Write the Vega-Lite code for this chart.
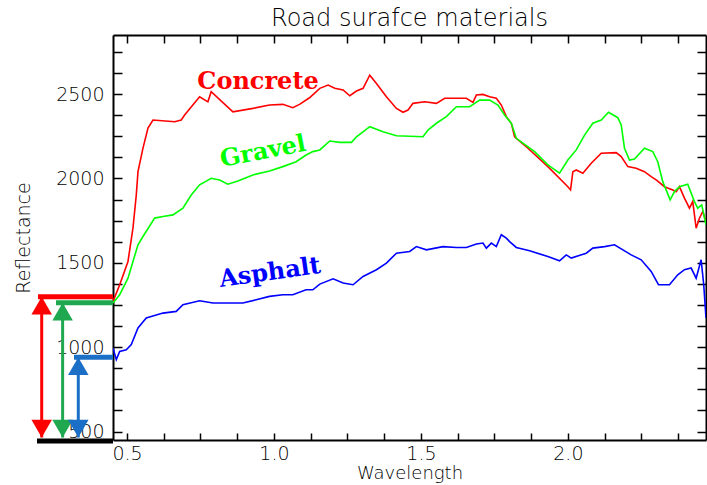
{
  "$schema": "https://vega.github.io/schema/vega-lite/v6.json",
  "width": 593,
  "height": 405,
  "autosize": {"type": "none"},
  "padding": {"left": 113, "top": 35, "right": 1, "bottom": 45},
  "background": "white",
  "title": {"text": "Road surafce materials", "font": "DejaVu Sans", "fontSize": 24, "fontWeight": 200, "color": "black", "anchor": "middle", "offset": 3},
  "config": {
    "view": {"stroke": null},
    "axis": {
      "domainColor": "black", "domainWidth": 2, "tickColor": "black", "tickWidth": 1.5,
      "grid": false, "labelFont": "DejaVu Sans", "labelFontSize": 19, "labelFontWeight": 200, "labelColor": "black",
      "titleFont": "DejaVu Sans", "titleFontSize": 19, "titleFontWeight": 200, "titleColor": "black",
      "labelFlush": false, "labelOverlap": false, "labelBound": false
    }
  },
  "datasets": {
    "spectra": [
      {"material":"Concrete","wavelength":0.4524,"reflectance":1271},
      {"material":"Concrete","wavelength":0.4752,"reflectance":1370},
      {"material":"Concrete","wavelength":0.5034,"reflectance":1508},
      {"material":"Concrete","wavelength":0.5204,"reflectance":1707},
      {"material":"Concrete","wavelength":0.5316,"reflectance":1902},
      {"material":"Concrete","wavelength":0.5374,"reflectance":2040},
      {"material":"Concrete","wavelength":0.5544,"reflectance":2180},
      {"material":"Concrete","wavelength":0.5714,"reflectance":2299},
      {"material":"Concrete","wavelength":0.5884,"reflectance":2346},
      {"material":"Concrete","wavelength":0.6621,"reflectance":2336},
      {"material":"Concrete","wavelength":0.6846,"reflectance":2346},
      {"material":"Concrete","wavelength":0.6961,"reflectance":2376},
      {"material":"Concrete","wavelength":0.7471,"reflectance":2484},
      {"material":"Concrete","wavelength":0.7753,"reflectance":2454},
      {"material":"Concrete","wavelength":0.7865,"reflectance":2514},
      {"material":"Concrete","wavelength":0.8603,"reflectance":2395},
      {"material":"Concrete","wavelength":0.9283,"reflectance":2415},
      {"material":"Concrete","wavelength":0.9850,"reflectance":2435},
      {"material":"Concrete","wavelength":1.0302,"reflectance":2439},
      {"material":"Concrete","wavelength":1.0642,"reflectance":2419},
      {"material":"Concrete","wavelength":1.0870,"reflectance":2439},
      {"material":"Concrete","wavelength":1.1210,"reflectance":2478},
      {"material":"Concrete","wavelength":1.1560,"reflectance":2534},
      {"material":"Concrete","wavelength":1.1842,"reflectance":2553},
      {"material":"Concrete","wavelength":1.2070,"reflectance":2534},
      {"material":"Concrete","wavelength":1.2352,"reflectance":2524},
      {"material":"Concrete","wavelength":1.2580,"reflectance":2490},
      {"material":"Concrete","wavelength":1.2808,"reflectance":2518},
      {"material":"Concrete","wavelength":1.3032,"reflectance":2534},
      {"material":"Concrete","wavelength":1.3260,"reflectance":2612},
      {"material":"Concrete","wavelength":1.3487,"reflectance":2563},
      {"material":"Concrete","wavelength":1.3827,"reflectance":2484},
      {"material":"Concrete","wavelength":1.4167,"reflectance":2415},
      {"material":"Concrete","wavelength":1.4392,"reflectance":2392},
      {"material":"Concrete","wavelength":1.4562,"reflectance":2405},
      {"material":"Concrete","wavelength":1.4731,"reflectance":2445},
      {"material":"Concrete","wavelength":1.5129,"reflectance":2454},
      {"material":"Concrete","wavelength":1.5527,"reflectance":2445},
      {"material":"Concrete","wavelength":1.5809,"reflectance":2475},
      {"material":"Concrete","wavelength":1.6207,"reflectance":2475},
      {"material":"Concrete","wavelength":1.6547,"reflectance":2475},
      {"material":"Concrete","wavelength":1.6771,"reflectance":2451},
      {"material":"Concrete","wavelength":1.6887,"reflectance":2494},
      {"material":"Concrete","wavelength":1.7111,"reflectance":2498},
      {"material":"Concrete","wavelength":1.7339,"reflectance":2484},
      {"material":"Concrete","wavelength":1.7566,"reflectance":2475},
      {"material":"Concrete","wavelength":1.7736,"reflectance":2435},
      {"material":"Concrete","wavelength":1.7906,"reflectance":2366},
      {"material":"Concrete","wavelength":1.8076,"reflectance":2327},
      {"material":"Concrete","wavelength":1.8188,"reflectance":2247},
      {"material":"Concrete","wavelength":1.8641,"reflectance":2179},
      {"material":"Concrete","wavelength":1.9320,"reflectance":2070},
      {"material":"Concrete","wavelength":2.0000,"reflectance":1951},
      {"material":"Concrete","wavelength":2.0092,"reflectance":1932},
      {"material":"Concrete","wavelength":2.0170,"reflectance":2040},
      {"material":"Concrete","wavelength":2.0285,"reflectance":2050},
      {"material":"Concrete","wavelength":2.0510,"reflectance":2031},
      {"material":"Concrete","wavelength":2.0795,"reflectance":2090},
      {"material":"Concrete","wavelength":2.1135,"reflectance":2149},
      {"material":"Concrete","wavelength":2.1645,"reflectance":2153},
      {"material":"Concrete","wavelength":2.1815,"reflectance":2129},
      {"material":"Concrete","wavelength":2.2040,"reflectance":2070},
      {"material":"Concrete","wavelength":2.2325,"reflectance":2060},
      {"material":"Concrete","wavelength":2.2607,"reflectance":2040},
      {"material":"Concrete","wavelength":2.2835,"reflectance":2011},
      {"material":"Concrete","wavelength":2.3005,"reflectance":1991},
      {"material":"Concrete","wavelength":2.3287,"reflectance":1951},
      {"material":"Concrete","wavelength":2.3569,"reflectance":1932},
      {"material":"Concrete","wavelength":2.3685,"reflectance":1922},
      {"material":"Concrete","wavelength":2.3797,"reflectance":1951},
      {"material":"Concrete","wavelength":2.3967,"reflectance":1883},
      {"material":"Concrete","wavelength":2.4137,"reflectance":1824},
      {"material":"Concrete","wavelength":2.4249,"reflectance":1863},
      {"material":"Concrete","wavelength":2.4365,"reflectance":1705},
      {"material":"Concrete","wavelength":2.4476,"reflectance":1764},
      {"material":"Concrete","wavelength":2.4589,"reflectance":1804},
      {"material":"Concrete","wavelength":2.4700,"reflectance":1745},
      {"material":"Gravel","wavelength":0.4524,"reflectance":1262},
      {"material":"Gravel","wavelength":0.4752,"reflectance":1311},
      {"material":"Gravel","wavelength":0.5034,"reflectance":1409},
      {"material":"Gravel","wavelength":0.5204,"reflectance":1508},
      {"material":"Gravel","wavelength":0.5374,"reflectance":1607},
      {"material":"Gravel","wavelength":0.5544,"reflectance":1656},
      {"material":"Gravel","wavelength":0.5942,"reflectance":1765},
      {"material":"Gravel","wavelength":0.6224,"reflectance":1774},
      {"material":"Gravel","wavelength":0.6564,"reflectance":1784},
      {"material":"Gravel","wavelength":0.6903,"reflectance":1824},
      {"material":"Gravel","wavelength":0.7186,"reflectance":1902},
      {"material":"Gravel","wavelength":0.7471,"reflectance":1962},
      {"material":"Gravel","wavelength":0.7865,"reflectance":2001},
      {"material":"Gravel","wavelength":0.8151,"reflectance":1991},
      {"material":"Gravel","wavelength":0.8433,"reflectance":1966},
      {"material":"Gravel","wavelength":0.8773,"reflectance":1985},
      {"material":"Gravel","wavelength":0.9283,"reflectance":2021},
      {"material":"Gravel","wavelength":0.9850,"reflectance":2044},
      {"material":"Gravel","wavelength":1.0302,"reflectance":2070},
      {"material":"Gravel","wavelength":1.0755,"reflectance":2099},
      {"material":"Gravel","wavelength":1.1094,"reflectance":2139},
      {"material":"Gravel","wavelength":1.1322,"reflectance":2159},
      {"material":"Gravel","wavelength":1.1560,"reflectance":2169},
      {"material":"Gravel","wavelength":1.1900,"reflectance":2222},
      {"material":"Gravel","wavelength":1.2240,"reflectance":2214},
      {"material":"Gravel","wavelength":1.2638,"reflectance":2214},
      {"material":"Gravel","wavelength":1.2808,"reflectance":2247},
      {"material":"Gravel","wavelength":1.3260,"reflectance":2307},
      {"material":"Gravel","wavelength":1.3712,"reflectance":2277},
      {"material":"Gravel","wavelength":1.4167,"reflectance":2253},
      {"material":"Gravel","wavelength":1.5071,"reflectance":2247},
      {"material":"Gravel","wavelength":1.5241,"reflectance":2287},
      {"material":"Gravel","wavelength":1.5527,"reflectance":2327},
      {"material":"Gravel","wavelength":1.5867,"reflectance":2366},
      {"material":"Gravel","wavelength":1.6207,"reflectance":2425},
      {"material":"Gravel","wavelength":1.6659,"reflectance":2425},
      {"material":"Gravel","wavelength":1.6999,"reflectance":2464},
      {"material":"Gravel","wavelength":1.7339,"reflectance":2464},
      {"material":"Gravel","wavelength":1.7620,"reflectance":2435},
      {"material":"Gravel","wavelength":1.7848,"reflectance":2376},
      {"material":"Gravel","wavelength":1.8076,"reflectance":2327},
      {"material":"Gravel","wavelength":1.8246,"reflectance":2238},
      {"material":"Gravel","wavelength":1.8868,"reflectance":2159},
      {"material":"Gravel","wavelength":1.9320,"reflectance":2080},
      {"material":"Gravel","wavelength":1.9718,"reflectance":2031},
      {"material":"Gravel","wavelength":2.0000,"reflectance":2109},
      {"material":"Gravel","wavelength":2.0285,"reflectance":2169},
      {"material":"Gravel","wavelength":2.0568,"reflectance":2257},
      {"material":"Gravel","wavelength":2.0850,"reflectance":2327},
      {"material":"Gravel","wavelength":2.1135,"reflectance":2346},
      {"material":"Gravel","wavelength":2.1383,"reflectance":2392},
      {"material":"Gravel","wavelength":2.1700,"reflectance":2360},
      {"material":"Gravel","wavelength":2.1815,"reflectance":2317},
      {"material":"Gravel","wavelength":2.1927,"reflectance":2179},
      {"material":"Gravel","wavelength":2.2097,"reflectance":2109},
      {"material":"Gravel","wavelength":2.2267,"reflectance":2115},
      {"material":"Gravel","wavelength":2.2607,"reflectance":2179},
      {"material":"Gravel","wavelength":2.2889,"reflectance":2159},
      {"material":"Gravel","wavelength":2.3059,"reflectance":2099},
      {"material":"Gravel","wavelength":2.3229,"reflectance":1981},
      {"material":"Gravel","wavelength":2.3481,"reflectance":1873},
      {"material":"Gravel","wavelength":2.3627,"reflectance":1922},
      {"material":"Gravel","wavelength":2.3797,"reflectance":1951},
      {"material":"Gravel","wavelength":2.4079,"reflectance":1966},
      {"material":"Gravel","wavelength":2.4307,"reflectance":1863},
      {"material":"Gravel","wavelength":2.4419,"reflectance":1824},
      {"material":"Gravel","wavelength":2.4555,"reflectance":1843},
      {"material":"Gravel","wavelength":2.4700,"reflectance":1725},
      {"material":"Asphalt","wavelength":0.4524,"reflectance":995},
      {"material":"Asphalt","wavelength":0.4636,"reflectance":926},
      {"material":"Asphalt","wavelength":0.4752,"reflectance":975},
      {"material":"Asphalt","wavelength":0.4976,"reflectance":985},
      {"material":"Asphalt","wavelength":0.5146,"reflectance":1015},
      {"material":"Asphalt","wavelength":0.5374,"reflectance":1114},
      {"material":"Asphalt","wavelength":0.5656,"reflectance":1173},
      {"material":"Asphalt","wavelength":0.6224,"reflectance":1202},
      {"material":"Asphalt","wavelength":0.6676,"reflectance":1212},
      {"material":"Asphalt","wavelength":0.6903,"reflectance":1252},
      {"material":"Asphalt","wavelength":0.7471,"reflectance":1275},
      {"material":"Asphalt","wavelength":0.7923,"reflectance":1262},
      {"material":"Asphalt","wavelength":0.8943,"reflectance":1262},
      {"material":"Asphalt","wavelength":0.9395,"reflectance":1281},
      {"material":"Asphalt","wavelength":0.9850,"reflectance":1301},
      {"material":"Asphalt","wavelength":1.0302,"reflectance":1311},
      {"material":"Asphalt","wavelength":1.0642,"reflectance":1311},
      {"material":"Asphalt","wavelength":1.1094,"reflectance":1340},
      {"material":"Asphalt","wavelength":1.1322,"reflectance":1340},
      {"material":"Asphalt","wavelength":1.1560,"reflectance":1374},
      {"material":"Asphalt","wavelength":1.2012,"reflectance":1405},
      {"material":"Asphalt","wavelength":1.2352,"reflectance":1380},
      {"material":"Asphalt","wavelength":1.2692,"reflectance":1370},
      {"material":"Asphalt","wavelength":1.3032,"reflectance":1419},
      {"material":"Asphalt","wavelength":1.3487,"reflectance":1459},
      {"material":"Asphalt","wavelength":1.3827,"reflectance":1498},
      {"material":"Asphalt","wavelength":1.4167,"reflectance":1557},
      {"material":"Asphalt","wavelength":1.4619,"reflectance":1567},
      {"material":"Asphalt","wavelength":1.4847,"reflectance":1596},
      {"material":"Asphalt","wavelength":1.5187,"reflectance":1577},
      {"material":"Asphalt","wavelength":1.5751,"reflectance":1596},
      {"material":"Asphalt","wavelength":1.6207,"reflectance":1591},
      {"material":"Asphalt","wavelength":1.6547,"reflectance":1591},
      {"material":"Asphalt","wavelength":1.6887,"reflectance":1611},
      {"material":"Asphalt","wavelength":1.7111,"reflectance":1617},
      {"material":"Asphalt","wavelength":1.7227,"reflectance":1587},
      {"material":"Asphalt","wavelength":1.7397,"reflectance":1617},
      {"material":"Asphalt","wavelength":1.7566,"reflectance":1596},
      {"material":"Asphalt","wavelength":1.7736,"reflectance":1666},
      {"material":"Asphalt","wavelength":1.7906,"reflectance":1646},
      {"material":"Asphalt","wavelength":1.8018,"reflectance":1626},
      {"material":"Asphalt","wavelength":1.8246,"reflectance":1591},
      {"material":"Asphalt","wavelength":1.8698,"reflectance":1571},
      {"material":"Asphalt","wavelength":1.9320,"reflectance":1537},
      {"material":"Asphalt","wavelength":1.9718,"reflectance":1512},
      {"material":"Asphalt","wavelength":1.9946,"reflectance":1547},
      {"material":"Asphalt","wavelength":2.0115,"reflectance":1528},
      {"material":"Asphalt","wavelength":2.0625,"reflectance":1557},
      {"material":"Asphalt","wavelength":2.0850,"reflectance":1587},
      {"material":"Asphalt","wavelength":2.1247,"reflectance":1596},
      {"material":"Asphalt","wavelength":2.1587,"reflectance":1607},
      {"material":"Asphalt","wavelength":2.2155,"reflectance":1547},
      {"material":"Asphalt","wavelength":2.2495,"reflectance":1518},
      {"material":"Asphalt","wavelength":2.2835,"reflectance":1449},
      {"material":"Asphalt","wavelength":2.3083,"reflectance":1370},
      {"material":"Asphalt","wavelength":2.3457,"reflectance":1370},
      {"material":"Asphalt","wavelength":2.3739,"reflectance":1429},
      {"material":"Asphalt","wavelength":2.3967,"reflectance":1459},
      {"material":"Asphalt","wavelength":2.4194,"reflectance":1469},
      {"material":"Asphalt","wavelength":2.4365,"reflectance":1409},
      {"material":"Asphalt","wavelength":2.4534,"reflectance":1518},
      {"material":"Asphalt","wavelength":2.4623,"reflectance":1370},
      {"material":"Asphalt","wavelength":2.4700,"reflectance":1173}
    ],
    "labels": [
      {"material":"Concrete","wavelength":0.9458,"reflectance":2571},
      {"material":"Gravel","wavelength":0.9628,"reflectance":2157},
      {"material":"Asphalt","wavelength":0.9866,"reflectance":1440}
    ],
    "levels": [
      {"material":"Concrete","x1":0.1972,"x2":0.4524,"level":1299},
      {"material":"Gravel","x1":0.2585,"x2":0.4524,"level":1264},
      {"material":"Asphalt","x1":0.3197,"x2":0.4524,"level":940},
      {"material":"Baseline","x1":0.1938,"x2":0.4524,"level":444}
    ],
    "arrows": [
      {"material":"Concrete","x":0.2098,"top":1299,"bottom":465},
      {"material":"Gravel","x":0.281,"top":1264,"bottom":465},
      {"material":"Asphalt","x":0.3343,"top":940,"bottom":465}
    ]
  },
  "resolve": {"axis": {"x": "independent", "y": "independent"}},
  "layer": [
    {
      "data": {"name": "spectra"},
      "mark": {"type": "line", "strokeWidth": 1.6, "clip": true},
      "encoding": {
        "x": {"field": "wavelength", "type": "quantitative",
          "scale": {"domain": [0.4524, 2.47], "nice": false, "zero": false},
          "axis": {"orient": "bottom", "title": "Wavelength", "values": [0.5,0.625,0.75,0.875,1,1.125,1.25,1.375,1.5,1.625,1.75,1.875,2,2.125,2.25,2.375],
            "labelExpr": "datum.value % 0.5 === 0 ? format(datum.value, '.1f') : ''", "tickSize": -7, "labelPadding": 11, "titlePadding": 1, "titleFontSize": 18}},
        "y": {"field": "reflectance", "type": "quantitative",
          "scale": {"domain": [450, 2850], "nice": false, "zero": false},
          "axis": {"orient": "left", "title": "Reflectance", "values": [500,625,750,875,1000,1125,1250,1375,1500,1625,1750,1875,2000,2125,2250,2375,2500,2625,2750],
            "labelExpr": "datum.value % 500 === 0 ? format(datum.value, 'd') : ''", "tickSize": -9, "labelPadding": 18, "titlePadding": 22}},
        "color": {"field": "material", "type": "nominal",
          "scale": {"domain": ["Concrete", "Gravel", "Asphalt"], "range": ["#ff0000", "#00ff00", "#0000ff"]}, "legend": null}
      }
    },
    {
      "data": {"name": "labels"},
      "transform": [{"filter": "datum.material === 'Concrete'"}],
      "mark": {"type": "text", "font": "DejaVu Serif", "fontWeight": "bold", "fontSize": 24, "align": "center", "baseline": "middle"},
      "encoding": {
        "x": {"field": "wavelength", "type": "quantitative",
          "axis": {"orient": "top", "title": null, "labels": false, "values": [0.5,0.625,0.75,0.875,1,1.125,1.25,1.375,1.5,1.625,1.75,1.875,2,2.125,2.25,2.375], "tickSize": -8}},
        "y": {"field": "reflectance", "type": "quantitative",
          "axis": {"orient": "right", "title": null, "labels": false, "values": [500,625,750,875,1000,1125,1250,1375,1500,1625,1750,1875,2000,2125,2250,2375,2500,2625,2750], "tickSize": -9}},
        "text": {"field": "material"},
        "color": {"field": "material", "type": "nominal", "legend": null}
      }
    },
    {
      "data": {"name": "labels"},
      "transform": [{"filter": "datum.material === 'Gravel'"}],
      "mark": {"type": "text", "font": "DejaVu Serif", "fontWeight": "bold", "fontSize": 24, "align": "center", "baseline": "middle", "angle": -11},
      "encoding": {
        "x": {"field": "wavelength", "type": "quantitative", "axis": null},
        "y": {"field": "reflectance", "type": "quantitative", "axis": null},
        "text": {"field": "material"},
        "color": {"field": "material", "type": "nominal", "legend": null}
      }
    },
    {
      "data": {"name": "labels"},
      "transform": [{"filter": "datum.material === 'Asphalt'"}],
      "mark": {"type": "text", "font": "DejaVu Serif", "fontWeight": "bold", "fontSize": 24, "align": "center", "baseline": "middle", "angle": -8},
      "encoding": {
        "x": {"field": "wavelength", "type": "quantitative", "axis": null},
        "y": {"field": "reflectance", "type": "quantitative", "axis": null},
        "text": {"field": "material"},
        "color": {"field": "material", "type": "nominal", "legend": null}
      }
    },
    {
      "data": {"name": "arrows"},
      "mark": {"type": "rule", "strokeWidth": 3, "clip": false},
      "encoding": {
        "x": {"field": "x", "type": "quantitative", "axis": null},
        "y": {"field": "top", "type": "quantitative", "axis": null},
        "y2": {"field": "bottom"},
        "stroke": {"field": "material", "type": "nominal",
          "scale": {"domain": ["Concrete", "Gravel", "Asphalt", "Baseline"], "range": ["#ff0000", "#1fa84f", "#1b6fc6", "#000000"]}, "legend": null}
      }
    },
    {
      "data": {"name": "arrows"},
      "mark": {"type": "point", "shape": "triangle-up", "filled": true, "size": 420, "opacity": 1, "yOffset": 8.9, "clip": false},
      "encoding": {
        "x": {"field": "x", "type": "quantitative", "axis": null},
        "y": {"field": "top", "type": "quantitative", "axis": null},
        "fill": {"field": "material", "type": "nominal",
          "scale": {"domain": ["Concrete", "Gravel", "Asphalt", "Baseline"], "range": ["#ff0000", "#1fa84f", "#1b6fc6", "#000000"]}, "legend": null}
      }
    },
    {
      "data": {"name": "arrows"},
      "mark": {"type": "point", "shape": "triangle-down", "filled": true, "size": 420, "opacity": 1, "yOffset": -8.9, "clip": false},
      "encoding": {
        "x": {"field": "x", "type": "quantitative", "axis": null},
        "y": {"field": "bottom", "type": "quantitative", "axis": null},
        "fill": {"field": "material", "type": "nominal", "legend": null}
      }
    },
    {
      "data": {"name": "levels"},
      "mark": {"type": "rule", "strokeWidth": 5, "clip": false},
      "encoding": {
        "x": {"field": "x1", "type": "quantitative", "axis": null},
        "x2": {"field": "x2"},
        "y": {"field": "level", "type": "quantitative", "axis": null},
        "stroke": {"field": "material", "type": "nominal", "legend": null}
      }
    }
  ]
}
